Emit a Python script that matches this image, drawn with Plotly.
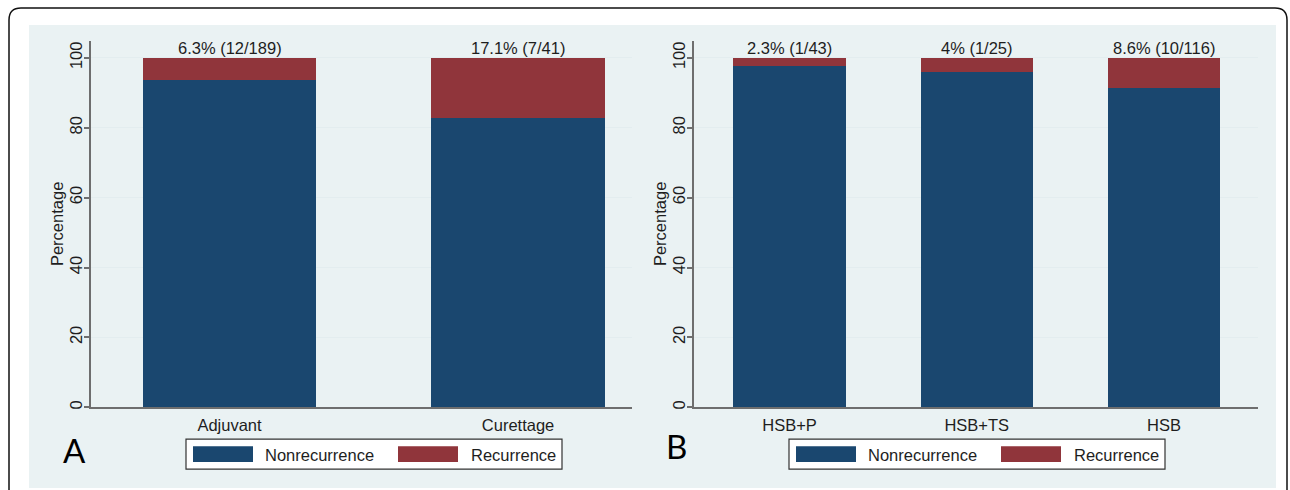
import plotly.graph_objects as go

# ---- data ----
cats_a = ["Adjuvant", "Curettage"]
rec_a = [6.3, 17.1]
nonrec_a = [93.7, 82.9]
labels_a = ["6.3% (12/189)", "17.1% (7/41)"]

cats_b = ["HSB+P", "HSB+TS", "HSB"]
rec_b = [2.3, 4.0, 8.6]
nonrec_b = [97.7, 96.0, 91.4]
labels_b = ["2.3% (1/43)", "4% (1/25)", "8.6% (10/116)"]

series_names = ["Nonrecurrence", "Recurrence"]
yticks = [0, 20, 40, 60, 80, 100]

# ---- style ----
W, H = 1290, 490
BLUE = "#1A476F"
RED = "#90353B"
BG = "#EAF2F3"
AXC = "#6E6E6E"
TXT = "#1E1E1E"
FONT = "Liberation Sans, Arial, sans-serif"
FS = 16.5


def px(x):
    return x / W


def py(y):
    return 1 - y / H


fig = go.Figure()

for i, (cats, non, rec) in enumerate([(cats_a, nonrec_a, rec_a), (cats_b, nonrec_b, rec_b)]):
    xa = "x" if i == 0 else "x2"
    ya = "y" if i == 0 else "y2"
    fig.add_trace(go.Bar(x=cats, y=non, name=series_names[0], marker=dict(color=BLUE, line=dict(width=0)),
                         width=0.6, xaxis=xa, yaxis=ya, showlegend=False))
    fig.add_trace(go.Bar(x=cats, y=rec, name=series_names[1], marker=dict(color=RED, line=dict(width=0)),
                         width=0.6, xaxis=xa, yaxis=ya, showlegend=False))

ytop = 100 * (409 - 41) / (409 - 58)
common_y = dict(range=[0, ytop], tickvals=yticks, ticks="outside", ticklen=5, tickwidth=1.5,
                tickcolor=AXC, showline=True, linecolor=AXC, linewidth=1.5,
                showgrid=True, gridcolor="#E3EDEF", gridwidth=1, zeroline=False,
                tickangle=-90, tickfont=dict(family=FONT, size=FS, color=TXT),
                ticklabelstandoff=-4, domain=[py(409), py(41)])
common_x = dict(type="category", ticks="", showline=True, linecolor=AXC, linewidth=1.5,
                showgrid=False, zeroline=False, tickfont=dict(family=FONT, size=FS, color=TXT),
                ticklabelstandoff=2)

fig.update_layout(
    width=W, height=H,
    margin=dict(l=0, r=0, t=0, b=0),
    paper_bgcolor="white", plot_bgcolor="white",
    barmode="stack", bargap=0,
    xaxis=dict(common_x, domain=[px(91), px(632)], range=[-0.48, 1.395], anchor="y"),
    yaxis=dict(common_y, anchor="x"),
    xaxis2=dict(common_x, domain=[px(694), px(1258)], range=[-0.51, 2.502], anchor="y2"),
    yaxis2=dict(common_y, anchor="x2"),
    showlegend=False,
)

shapes = []
# outer rounded border
path = (f"M {px(9)},{py(500)} L {px(9)},{py(20)} Q {px(9)},{py(8)} {px(21)},{py(8)} "
        f"L {px(1275)},{py(8)} Q {px(1287)},{py(8)} {px(1287)},{py(20)} L {px(1287)},{py(500)}")
shapes.append(dict(type="path", xref="paper", yref="paper", path=path,
                   line=dict(color="#111111", width=1.5), layer="below"))
# panel background
shapes.append(dict(type="rect", xref="paper", yref="paper", x0=px(29), x1=px(1276), y0=py(490), y1=py(25),
                   fillcolor=BG, line=dict(width=0), layer="below"))

annotations = []
# value labels above bars
for cats, labs, xr, yr in [(cats_a, labels_a, "x", "y"), (cats_b, labels_b, "x2", "y2")]:
    for c, t in zip(cats, labs):
        annotations.append(dict(x=c, y=100, xref=xr, yref=yr, text=t, showarrow=False,
                                yanchor="bottom", yshift=-1,
                                font=dict(family=FONT, size=FS, color=TXT)))

# y titles
for xpos in [57, 660]:
    annotations.append(dict(x=px(xpos), y=py(225), xref="paper", yref="paper", text="Percentage",
                            textangle=-90, showarrow=False, xanchor="center", yanchor="middle",
                            font=dict(family=FONT, size=FS, color=TXT)))

# panel letters
for letter, xc, yc in [("A", 74, 452), ("B", 676, 448)]:
    annotations.append(dict(x=px(xc), y=py(yc), xref="paper", yref="paper", text=letter,
                            showarrow=False, xanchor="center", yanchor="middle",
                            font=dict(family="Lato, Liberation Sans, sans-serif", size=33, color="black")))

# custom legends (box, swatches, texts)
for off in [0, 603]:
    shapes.append(dict(type="rect", xref="paper", yref="paper", x0=px(186 + off), x1=px(562 + off),
                       y0=py(471), y1=py(441), fillcolor="white", line=dict(color="#333333", width=1.2)))
    for sx, col, name, tx in [(193, BLUE, series_names[0], 263), (398, RED, series_names[1], 469)]:
        shapes.append(dict(type="rect", xref="paper", yref="paper", x0=px(sx + off), x1=px(sx + 60 + off),
                           y0=py(464), y1=py(448), fillcolor=col, line=dict(width=0)))
        annotations.append(dict(x=px(tx + off), y=py(457), xref="paper", yref="paper", text=name,
                                showarrow=False, xanchor="left", yanchor="middle",
                                font=dict(family=FONT, size=FS, color=TXT)))

fig.update_layout(shapes=shapes, annotations=annotations)

fig.write_html("out.html", config={"displayModeBar": False},
               post_script="document.body.style.margin='0';document.body.style.overflow='hidden';")
